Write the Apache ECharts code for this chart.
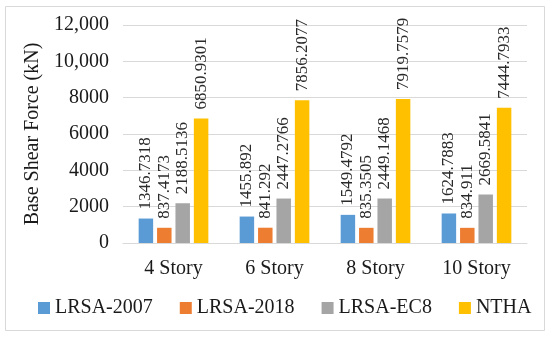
<!DOCTYPE html>
<html><head><meta charset="utf-8">
<script src="https://cdn.jsdelivr.net/npm/echarts@6/dist/echarts.min.js"></script>
<style>html,body{margin:0;padding:0;background:#fff}#c{width:550px;height:337px}</style>
</head><body><div id="c"></div>
<script>
var categories = ['4 Story', '6 Story', '8 Story', '10 Story'];
var seriesNames = ['LRSA-2007', 'LRSA-2018', 'LRSA-EC8', 'NTHA'];
var lrsa2007 = ['1346.7318', '1455.892', '1549.4792', '1624.7883'];
var lrsa2018 = ['837.4173', '841.292', '835.3505', '834.911'];
var lrsaEC8 = ['2188.5136', '2447.2766', '2449.1468', '2669.5841'];
var ntha = ['6850.9301', '7856.2077', '7919.7579', '7444.7933'];
var yTicks = [0, 2000, 4000, 6000, 8000, 10000, 12000];
var yTickLabels = ['0', '2000', '4000', '6000', '8000', '10,000', '12,000'];

var colors = ['#5B9BD5', '#ED7D31', '#A5A5A5', '#FFC000'];
var FONT = '"Liberation Serif", "Times New Roman", serif';
var all = [lrsa2007, lrsa2018, lrsaEC8, ntha];

var chart = echarts.init(document.getElementById('c'), null, {renderer: 'canvas'});
chart.setOption({
  animation: false,
  backgroundColor: '#fff',
  textStyle: {fontFamily: FONT},
  graphic: [{type: 'rect', shape: {x: 5.5, y: 6.5, width: 539, height: 324}, style: {fill: 'none', stroke: '#D9D9D9', lineWidth: 1}, silent: true}],
  grid: {left: 123, right: 23, top: 25, bottom: 94, containLabel: false},
  legend: {
    data: seriesNames, left: 33, top: 293, icon: 'rect', itemWidth: 12, itemHeight: 12, itemGap: 27,
    textStyle: {fontFamily: FONT, fontSize: 20, color: '#1a1a1a'}
  },
  xAxis: {
    type: 'category', data: categories,
    axisLine: {show: true, lineStyle: {color: '#D9D9D9'}},
    axisTick: {show: false},
    axisLabel: {fontFamily: FONT, fontSize: 20, color: '#1a1a1a', margin: 16}
  },
  yAxis: {
    type: 'value', min: 0, max: 12000, interval: 2000,
    name: 'Base Shear Force (kN)', nameLocation: 'middle', nameGap: 78,
    nameTextStyle: {fontFamily: FONT, fontSize: 20, color: '#1a1a1a'},
    axisLine: {show: false}, axisTick: {show: false},
    splitLine: {lineStyle: {color: '#D9D9D9'}},
    axisLabel: {fontFamily: FONT, fontSize: 20, color: '#1a1a1a', margin: 14,
      formatter: function (v) { var i = yTicks.indexOf(v); return i >= 0 ? yTickLabels[i] : String(v); }}
  },
  series: all.map(function (arr, k) {
    return {
      name: seriesNames[k], type: 'bar', data: arr.map(Number),
      barGap: '27%', barCategoryGap: '31%',
      itemStyle: {color: colors[k]},
      label: {
        show: true, position: 'top', rotate: 90, align: 'left', verticalAlign: 'middle', distance: 9,
        fontFamily: FONT, fontSize: 17, color: '#2a2a2a',
        formatter: function (p) { return arr[p.dataIndex]; }
      }
    };
  })
});
</script></body></html>
